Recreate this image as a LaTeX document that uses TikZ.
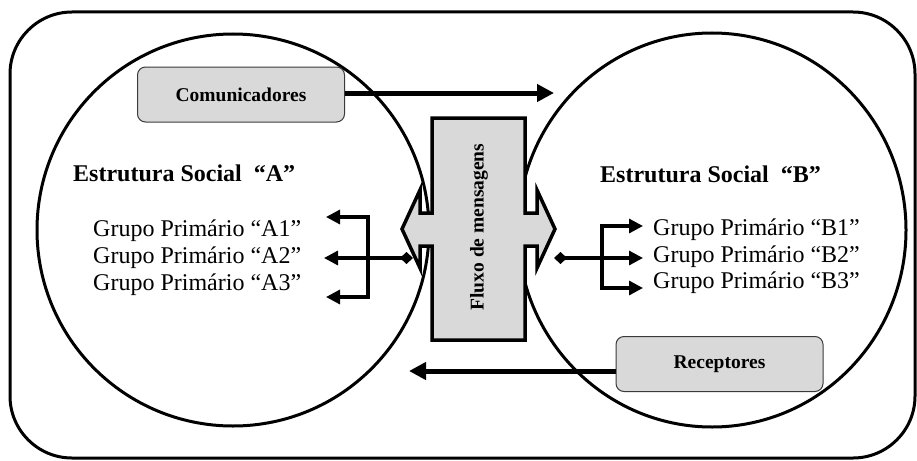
\documentclass[tikz,border=0pt]{standalone}
\usepackage{fontspec}
\setmainfont{Liberation Serif}
\usetikzlibrary{arrows.meta}
\definecolor{boxgray}{HTML}{D9D9D9}
\definecolor{edgegray}{HTML}{3A3A3A}
\tikzset{
  grptip/.tip={Triangle[length=14pt,width=14pt]},
  grpdia/.tip={Diamond[length=13pt,width=12pt]}
}
\begin{document}
\begin{tikzpicture}[x=1pt,y=-1pt,
  outerbox/.style={line width=3pt,rounded corners=62pt},
  socialcircle/.style={line width=3pt},
  rolebox/.style={draw=edgegray,fill=boxgray,line width=1pt,rounded corners=8pt,minimum width=207pt,minimum height=55pt,font=\fontsize{19.5}{22}\selectfont\bfseries},
  bigarrow/.style={line width=5pt,-{Triangle[length=17pt,width=17pt]}},
  grparrow/.style={line width=3.2pt},
  grptext/.style={anchor=base west,inner sep=0pt,font=\fontsize{24}{28}\selectfont},
  titletext/.style={anchor=base west,inner sep=0pt,font=\fontsize{24}{28}\selectfont\bfseries},
  flowshape/.style={draw=black,fill=boxgray,line width=3.5pt,line join=miter}
]
\useasboundingbox (0,0) rectangle (917,460);
% outer frame
\draw[outerbox] (10,12) rectangle (915,458);
% social structure circles
\coordinate (cA) at (233,230);
\coordinate (cB) at (712,230);
\draw[socialcircle] (cA) circle[radius=196pt];
\draw[socialcircle] (cB) circle[x radius=194pt,y radius=197pt];
% message flow shape
\draw[flowshape] (432,118) -- (525,118) -- (525,213) -- (537,213) -- (537,190) -- (555,229) -- (537,268) -- (537,246) -- (525,246) -- (525,340) -- (432,340) -- (432,246) -- (420,246) -- (420,268) -- (402,229) -- (420,190) -- (420,213) -- (432,213) -- cycle;
\node[rotate=90,font=\fontsize{19.5}{22}\selectfont\bfseries] (fluxo) at (479,227) {Fluxo de mensagens};
% role boxes
\node[rolebox] (com) at (241,94.5) {Comunicadores};
\node[rolebox] (rec) at (719.5,364) {Receptores};
\coordinate (comEnd) at (554,93);
\coordinate (recEnd) at (409,371);
\draw[bigarrow] (com.east |- comEnd) -- (comEnd);
\draw[bigarrow] (rec.west |- recEnd) -- (recEnd);
% titles
\node[titletext] (titA) at (73,181) {Estrutura Social \ “A”};
\node[titletext] (titB) at (600,182) {Estrutura Social \ “B”};
% group texts A
\node[grptext] (gA1) at (93,236) {Grupo Primário “A1”};
\node[grptext] (gA2) at (93,263) {Grupo Primário “A2”};
\node[grptext] (gA3) at (93,290) {Grupo Primário “A3”};
% group texts B
\node[grptext] (gB1) at (653,235) {Grupo Primário “B1”};
\node[grptext] (gB2) at (653,262) {Grupo Primário “B2”};
\node[grptext] (gB3) at (653,288) {Grupo Primário “B3”};
% group connectors A
\coordinate (dA) at (413,258);
\coordinate (tA1) at (326,217);
\coordinate (tA2) at (324,258);
\coordinate (tA3) at (326,297);
\coordinate (jA1) at (368,217);
\coordinate (jA3) at (368,297);
\draw[grparrow,{grpdia}-{grptip}] (dA) -- (tA2);
\draw[grparrow,{grptip}-{grptip},line join=miter] (tA1) -- (jA1) -- (jA3) -- (tA3);
% group connectors B
\coordinate (dB) at (554,258);
\coordinate (tB1) at (643,226);
\coordinate (tB2) at (643,258);
\coordinate (tB3) at (643,288);
\coordinate (jB1) at (602,226);
\coordinate (jB3) at (602,288);
\draw[grparrow,{grpdia}-{grptip}] (dB) -- (tB2);
\draw[grparrow,{grptip}-{grptip},line join=miter] (tB1) -- (jB1) -- (jB3) -- (tB3);
\end{tikzpicture}
\end{document}
